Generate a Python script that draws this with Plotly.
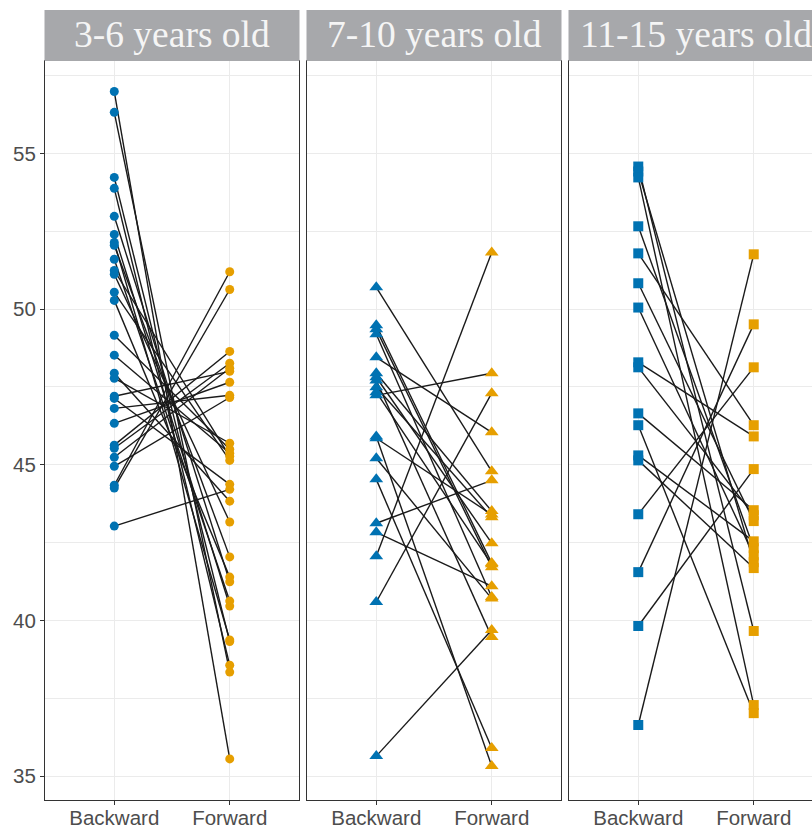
import plotly.graph_objects as go

# ---------------- data ----------------
panel_titles = ["3-6 years old", "7-10 years old", "11-15 years old"]
x_labels = ["Backward", "Forward"]

young_backward = [56.99, 56.32, 54.23, 53.88, 52.98, 52.40, 52.14, 52.05, 51.60, 51.24,
                  51.12, 50.54, 50.28, 49.16, 48.52, 47.94, 47.78, 47.20, 47.13, 46.81,
                  46.33, 45.63, 45.53, 45.24, 44.95, 44.34, 44.25, 43.03]
young_forward = [35.55, 38.34, 39.32, 38.56, 41.24, 40.46, 39.37, 42.04, 40.62, 45.27,
                 43.16, 45.14, 41.39, 45.50, 45.37, 43.83, 45.69, 48.00, 44.37, 47.23,
                 47.65, 48.64, 48.26, 48.10, 47.16, 51.20, 50.63, 44.21]

middle_backward = [50.70, 49.48, 49.35, 49.19, 48.45, 47.94, 47.81, 47.71, 47.49, 47.33,
                   47.23, 45.91, 45.85, 45.21, 44.53, 43.12, 42.83, 42.06, 40.59, 35.64]
middle_forward = [44.79, 41.84, 41.71, 40.75, 46.04, 43.51, 42.48, 39.47, 43.31, 41.80,
                  47.94, 35.32, 43.40, 40.70, 35.90, 44.50, 41.10, 51.82, 47.30, 39.69]

old_backward = [54.58, 54.42, 54.23, 52.66, 51.79, 50.83, 50.05, 48.29, 48.13, 46.65,
                46.27, 45.30, 45.14, 43.41, 41.55, 39.82, 36.64]
old_forward = [39.66, 41.87, 37.28, 42.32, 46.27, 43.19, 42.09, 45.91, 43.38, 43.54,
               37.02, 42.54, 41.68, 48.13, 49.51, 44.86, 51.76]

y_ticks = [35, 40, 45, 50, 55]

# ---------------- styling ----------------
W, H = 812, 828
L, R, T, B = 45, 0, 61, 28
pw = W - L - R
ph = H - T - B
panels_px = [(45, 299), (307, 561), (569, 812)]
unit_px = 254 / 2.2
blue, orange = "#0072B2", "#E69F00"
symbols = ["circle", "triangle-up", "square"]
sizes = [9, 12, 10]
data = [(young_backward, young_forward), (middle_backward, middle_forward),
        (old_backward, old_forward)]

fig = go.Figure()
for i, (bw, fw) in enumerate(data):
    xa = "x" if i == 0 else f"x{i+1}"
    ya = "y" if i == 0 else f"y{i+1}"
    lx, ly = [], []
    for b, f in zip(bw, fw):
        lx += [0, 1, None]
        ly += [b, f, None]
    fig.add_trace(go.Scatter(x=lx, y=ly, mode="lines", xaxis=xa, yaxis=ya,
                             line=dict(color="#1a1a1a", width=1.4),
                             showlegend=False, hoverinfo="skip"))
    fig.add_trace(go.Scatter(x=[0] * len(bw), y=bw, mode="markers", xaxis=xa, yaxis=ya,
                             marker=dict(color=blue, symbol=symbols[i], size=sizes[i],
                                         line=dict(width=0)),
                             showlegend=False))
    fig.add_trace(go.Scatter(x=[1] * len(fw), y=fw, mode="markers", xaxis=xa, yaxis=ya,
                             marker=dict(color=orange, symbol=symbols[i], size=sizes[i],
                                         line=dict(width=0)),
                             showlegend=False))

yrange = [34.23, 57.97]
grid = "#ebebeb"
axis_line = "#333333"
tick_font = dict(family="Liberation Sans, Arial, sans-serif", size=20.5, color="#4d4d4d")

layout = dict(
    width=W, height=H,
    margin=dict(l=L, r=R, t=T, b=B, pad=0, autoexpand=False),
    plot_bgcolor="white", paper_bgcolor="white",
    showlegend=False,
)
for i, (x0, x1) in enumerate(panels_px):
    sfx = "" if i == 0 else str(i + 1)
    dom = [(x0 - L) / pw, (x1 - L) / pw]
    width_units = (x1 - x0) / unit_px
    layout[f"xaxis{sfx}"] = dict(
        domain=dom, range=[-0.6, -0.6 + width_units],
        tickvals=[0, 1], ticktext=x_labels,
        showgrid=True, gridcolor=grid, gridwidth=1.1,
        zeroline=False,
        showline=True, linecolor=axis_line, linewidth=1.2,
        mirror=True,
        ticks="outside", ticklen=4, tickcolor=axis_line, tickwidth=1.1,
        ticklabelstandoff=-5,
        tickfont=tick_font, anchor="y" if i == 0 else f"y{i+1}",
        automargin=False, fixedrange=True,
    )
    layout[f"yaxis{sfx}"] = dict(
        range=yrange, tickvals=y_ticks,
        showticklabels=(i == 0),
        ticks="outside" if i == 0 else "", ticklen=4, tickcolor=axis_line, tickwidth=1.1,
        showgrid=True, gridcolor=grid, gridwidth=1.1,
        minor=dict(tickvals=[37.5, 42.5, 47.5, 52.5, 57.5], showgrid=True,
                   gridcolor=grid, gridwidth=0.6, ticks=""),
        zeroline=False,
        showline=True, linecolor=axis_line, linewidth=1.2,
        mirror=(i < 2),
        tickfont=tick_font, anchor="x" if i == 0 else f"x{i+1}",
        automargin=False, fixedrange=True,
    )
fig.update_layout(**layout)

# strips
strip_top = (H - B - 10) / ph
shapes, annots = [], []
for i, (x0, x1) in enumerate(panels_px):
    px0 = (x0 - 0.5 - L) / pw
    px1 = (x1 + 0.5 - L) / pw
    shapes.append(dict(type="rect", xref="paper", yref="paper",
                       x0=px0, x1=px1, y0=1.0, y1=strip_top,
                       fillcolor="#a7a8ab", line=dict(width=0), layer="above"))
    cx = ((x0 + x1) / 2 - L) / pw if i < 2 else ((569 + 569 + 254) / 2 - L) / pw
    annots.append(dict(text=panel_titles[i], xref="paper", yref="paper",
                       x=cx, y=(1.0 + strip_top) / 2 + 0.002, xanchor="center",
                       yanchor="middle", showarrow=False,
                       font=dict(family="Liberation Serif, Times New Roman, serif",
                                 size=37.5, color="#f5f5f5")))
fig.update_layout(shapes=shapes, annotations=annots)

fig.write_html("out.html", config={"displayModeBar": False},
               post_script="document.body.style.margin='0';"
                           "document.body.style.overflow='hidden';")
